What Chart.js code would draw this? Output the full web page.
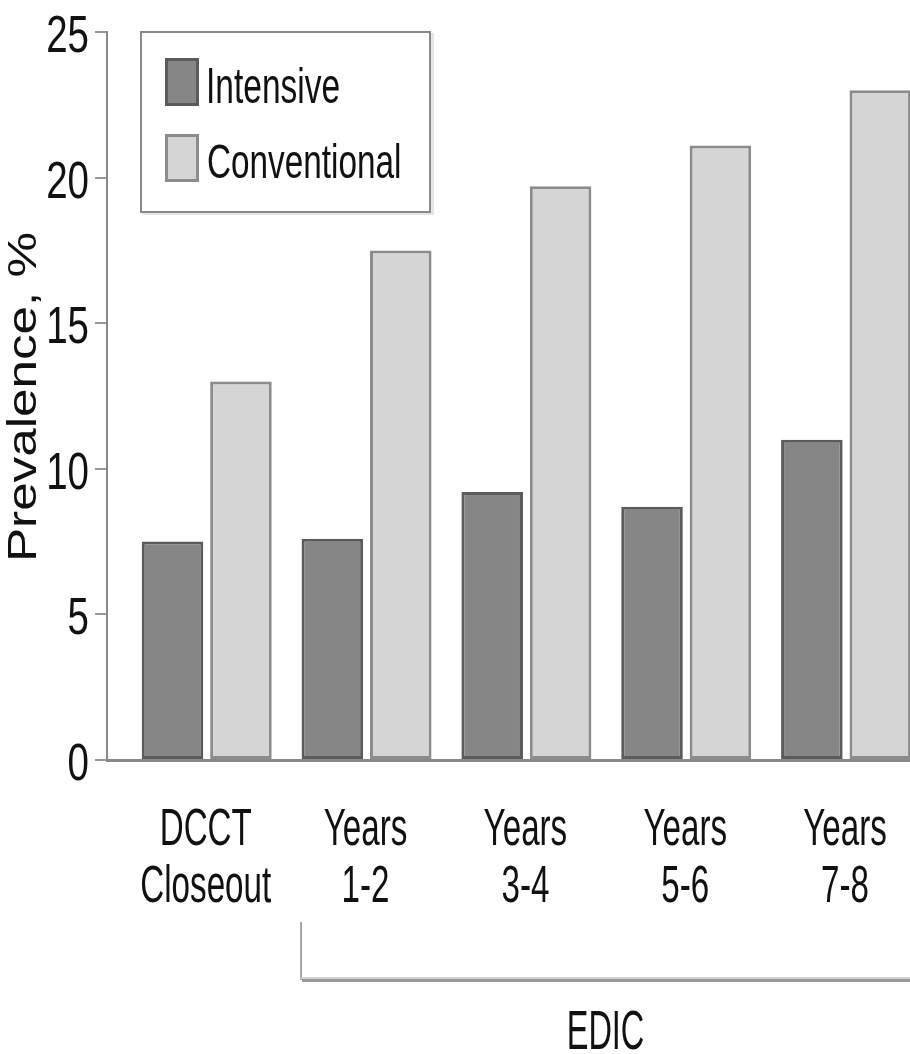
<!DOCTYPE html>
<html><head><meta charset="utf-8">
<script src="https://cdn.jsdelivr.net/npm/chart.js@4"></script>
<style>
html,body{margin:0;padding:0;background:#fff;overflow:hidden}
#wrap{width:910px;height:1054px;position:relative}
</style>
</head><body>
<div id="wrap"><canvas id="c"></canvas></div>
<script>
// ---- data ----
const categories = [['DCCT','Closeout'],['Years','1-2'],['Years','3-4'],['Years','5-6'],['Years','7-8']];
const seriesNames = ['Intensive','Conventional'];
const intensive = [7.5, 7.6, 9.2, 8.7, 11.0];
const conventional = [13.0, 17.5, 19.7, 21.1, 23.0];
const yTicks = [0, 5, 10, 15, 20, 25];
const yTitle = 'Prevalence, %';
const groupLabel = 'EDIC';
const groupFrom = 1, groupTo = 4;

// ---- styles ----
const FONT = '"Liberation Sans", Arial, sans-serif';
const fills = ['#868686', '#d5d5d5'];
const borders = ['#5b5b5b', '#8c8c8c'];

function sText(ctx, str, x, y, size, sx, sy, align, rot) {
  ctx.save();
  ctx.translate(x, y);
  if (rot) ctx.rotate(rot);
  ctx.scale(sx, sy);
  ctx.font = size + 'px ' + FONT;
  ctx.textAlign = align;
  ctx.textBaseline = 'alphabetic';
  ctx.fillStyle = '#111';
  ctx.fillText(str, 0, 0);
  ctx.restore();
}

const textPlugin = {
  id: 'textPlugin',
  afterDraw(chart) {
    const ctx = chart.ctx;
    const xs = chart.scales.x, ys = chart.scales.y;
    // y tick labels
    ys.ticks.forEach(t => {
      const py = ys.getPixelForValue(t.value);
      sText(ctx, String(t.value), 89, py + 20, 52, 0.74, 1, 'right');
    });
    // y title
    sText(ctx, yTitle, 36, 397, 40, 1.28, 1, 'center', -Math.PI / 2);
    // category labels
    categories.forEach((lines, i) => {
      const px = xs.getPixelForValue(i);
      sText(ctx, lines[0], px - 1, 845, 51, 0.65, 1, 'center');
      sText(ctx, lines[1], px - 1, 902, 51, 0.65, 1, 'center');
    });
    // bracket
    const bx1 = xs.getPixelForValue(groupFrom - 0.41);
    const bx2 = xs.getPixelForValue(groupTo + 0.41);
    ctx.save();
    ctx.strokeStyle = '#8a8a8a';
    ctx.lineWidth = 1.5;
    ctx.beginPath();
    ctx.moveTo(bx1, 922); ctx.lineTo(bx1, 980);
    ctx.moveTo(bx2, 922); ctx.lineTo(bx2, 980);
    ctx.stroke();
    ctx.fillStyle = '#d0d0d0';
    ctx.fillRect(bx1, 977, bx2 - bx1, 2);
    ctx.fillStyle = '#999';
    ctx.fillRect(bx1 + 1, 979, bx2 - bx1, 3);
    ctx.restore();
    sText(ctx, groupLabel, (bx1 + Math.min(bx2, chart.width)) / 2, 1049, 56, 0.58, 1, 'center');
    // legend box
    ctx.save();
    ctx.fillStyle = '#e6e6e6';
    ctx.fillRect(142, 212, 291, 3);
    ctx.fillRect(431, 33, 3, 182);
    ctx.fillStyle = '#fff';
    ctx.fillRect(141, 32, 289, 180);
    ctx.strokeStyle = '#8a8a8a';
    ctx.lineWidth = 2;
    ctx.strokeRect(141, 32, 289, 180);
    chart.data.datasets.forEach((ds, i) => {
      const top = i === 0 ? 58 : 134;
      ctx.fillStyle = ds.backgroundColor;
      ctx.fillRect(165, top, 34, 48);
      ctx.strokeStyle = ds.borderColor;
      ctx.lineWidth = 3;
      ctx.strokeRect(166.5, top + 1.5, 31, 45);
    });
    ctx.restore();
    sText(ctx, chart.data.datasets[0].label, 206, 103, 50, 0.67, 1, 'left');
    sText(ctx, chart.data.datasets[1].label, 207, 178, 49, 0.68, 1, 'left');
  }
};

const datasets = [intensive, conventional].map((vals, k) => ({
  label: seriesNames[k],
  data: vals.map((v, i) => ({ x: i, y: v })),
  backgroundColor: fills[k],
  borderColor: borders[k],
  borderWidth: 3,
  borderSkipped: false,
  categoryPercentage: 0.856,
  barPercentage: 0.9
}));

new Chart(document.getElementById('c'), {
  type: 'bar',
  data: { datasets },
  options: {
    responsive: true,
    maintainAspectRatio: false,
    animation: false,
    layout: { padding: { top: 32, right: 0, bottom: 0, left: 0 } },
    plugins: { legend: { display: false }, tooltip: { enabled: false } },
    scales: {
      x: {
        type: 'linear',
        position: 'bottom',
        offset: false,
        min: -0.624,
        max: 4.40,
        z: 1,
        ticks: { display: false, stepSize: 1, includeBounds: false },
        grid: { display: false },
        border: { display: true, color: '#8a8a8a', width: 3 },
        afterFit(s) { s.height = 294; }
      },
      y: {
        min: 0,
        max: 25,
        ticks: { display: false, stepSize: 5 },
        afterBuildTicks(s) { s.ticks = yTicks.map(v => ({ value: v })); },
        grid: { drawOnChartArea: false, drawTicks: true, tickLength: 12, color: '#9a9a9a', lineWidth: 2 },
        border: { display: true, color: '#8a8a8a', width: 2 },
        afterFit(s) { s.width = 107; }
      }
    }
  },
  plugins: [textPlugin]
});
</script>
</body></html>
